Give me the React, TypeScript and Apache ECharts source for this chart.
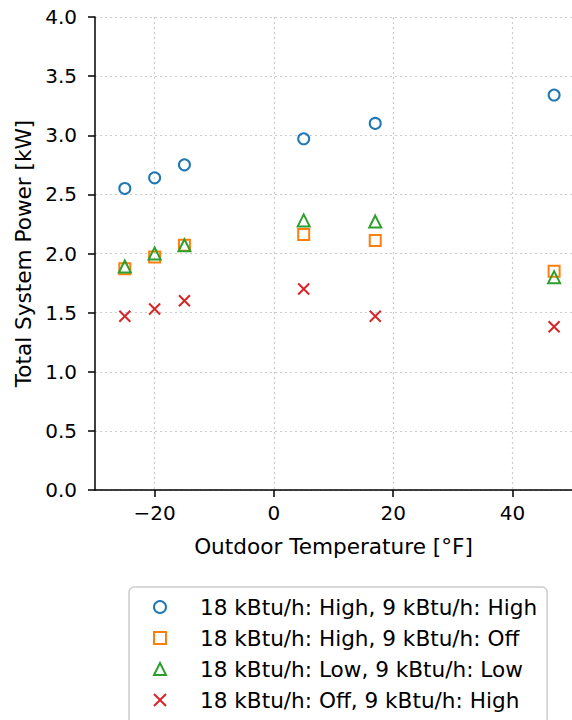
import React, { useEffect, useRef } from "react";
import * as echarts from "echarts";

const temps = [-25, -20, -15, 5, 17, 47];
const highHigh = [2.55, 2.64, 2.75, 2.97, 3.1, 3.34];
const highOff = [1.87, 1.97, 2.07, 2.16, 2.11, 1.85];
const lowLow = [1.89, 2.0, 2.07, 2.28, 2.27, 1.8];
const offHigh = [1.47, 1.53, 1.6, 1.7, 1.47, 1.38];
const seriesNames = [
  "18 kBtu/h: High, 9 kBtu/h: High",
  "18 kBtu/h: High, 9 kBtu/h: Off",
  "18 kBtu/h: Low, 9 kBtu/h: Low",
  "18 kBtu/h: Off, 9 kBtu/h: High",
];
const xTicks = [-20, 0, 20, 40];

const FONT = "DejaVu Sans";
const colors = ["#1f77b4", "#ff7f0e", "#2ca02c", "#d62728"];

function pairs(ys: number[]) {
  return temps.map((t, i) => [t, ys[i]]);
}

export default function App() {
  const ref = useRef<HTMLDivElement>(null);
  useEffect(() => {
    const chart = echarts.init(ref.current!, null, { renderer: "svg" });
    const hollow = (c: string) => ({ color: "rgba(0,0,0,0)", borderColor: c, borderWidth: 2, opacity: 1 });
    chart.setOption({
      animation: false,
      textStyle: { fontFamily: FONT },
      grid: { left: 95, top: 17, width: 485, height: 473 },
      xAxis: {
        type: "value",
        min: -30,
        max: 50,
        name: "Outdoor Temperature [°F]",
        nameLocation: "middle",
        nameGap: 45,
        nameTextStyle: { fontFamily: FONT, fontSize: 21.6, color: "#000" },
        axisLine: { onZero: false, lineStyle: { color: "#000", width: 1.5 } },
        axisTick: { show: true, length: 7, lineStyle: { color: "#000", width: 1.5 }, customValues: xTicks },
        axisLabel: {
          customValues: xTicks,
          fontFamily: FONT,
          fontSize: 20,
          color: "#000",
          margin: 13,
          formatter: (v: number) => String(v).replace("-", "\u2212"),
        },
        splitLine: { show: true, lineStyle: { color: "#cccccc", type: [2, 3], width: 1.2 } },
      },
      yAxis: {
        type: "value",
        min: 0,
        max: 4,
        interval: 0.5,
        name: "Total System Power [kW]",
        nameLocation: "middle",
        nameGap: 55,
        nameTextStyle: { fontFamily: FONT, fontSize: 21.6, color: "#000" },
        axisLine: { show: true, onZero: false, lineStyle: { color: "#000", width: 1.5 } },
        axisTick: { show: true, length: 7, lineStyle: { color: "#000", width: 1.5 } },
        axisLabel: {
          fontFamily: FONT,
          fontSize: 20,
          color: "#000",
          margin: 18,
          formatter: (v: number) => v.toFixed(1),
        },
        splitLine: { show: true, lineStyle: { color: "#cccccc", type: [2, 3], width: 1.2 } },
      },
      legend: {
        orient: "vertical",
        left: 129,
        top: 587,
        height: 160,
        padding: [9, 10, 20, 24],
        itemWidth: 12,
        itemHeight: 12,
        itemGap: 9,
        backgroundColor: "#fff",
        borderColor: "#cccccc",
        borderWidth: 1.5,
        borderRadius: 5,
        textStyle: { fontFamily: FONT, fontSize: 21.6, color: "#000", padding: [0, 0, 0, 29] },
        data: seriesNames,
      },
      series: [
        {
          name: seriesNames[0],
          type: "scatter",
          symbol: "circle",
          symbolSize: 11,
          itemStyle: hollow(colors[0]),
          data: pairs(highHigh),
        },
        {
          name: seriesNames[1],
          type: "scatter",
          symbol: "rect",
          symbolSize: 11,
          itemStyle: hollow(colors[1]),
          data: pairs(highOff),
        },
        {
          name: seriesNames[2],
          type: "scatter",
          symbol: "triangle",
          symbolSize: 12,
          itemStyle: hollow(colors[2]),
          data: pairs(lowLow),
        },
        {
          name: seriesNames[3],
          type: "scatter",
          symbol: "path://M0,0L10,10M10,0L0,10",
          symbolSize: 11,
          itemStyle: { color: "rgba(0,0,0,0)", borderColor: colors[3], borderWidth: 2, opacity: 1 },
          data: pairs(offHigh),
        },
      ],
    });
    return () => chart.dispose();
  }, []);
  return (
    <div
      ref={ref}
      style={{ position: "fixed", left: 0, top: 0, width: 572, height: 720, background: "#fff" }}
    />
  );
}
